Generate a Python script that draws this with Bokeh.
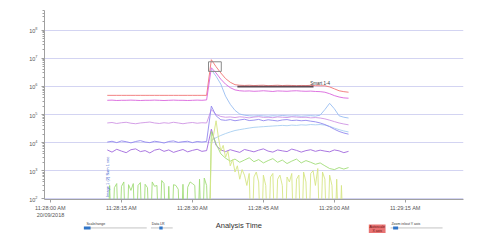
import numpy as np
from math import pi
from bokeh.plotting import figure
from bokeh.models import Range1d, FixedTicker
from bokeh.layouts import column
from bokeh.core.properties import value
from bokeh.embed import file_html
from bokeh.resources import INLINE

FONT = "Liberation Sans"

# ---------------- data (time in seconds after 11:28:00 AM) ----------------
tick_secs = [0, 15, 30, 45, 60, 75]
tick_labels = ["11:28:00 AM\n20/09/2018", "11:28:15 AM", "11:28:30 AM",
               "11:28:45 AM", "11:29:00 AM", "11:29:15 AM"]

t_main = list(range(12, 64))      # 52 samples, 1 s apart
t_post = list(range(34, 64))      # 30 samples after the burst

red_vals = [4.8e5, 4.8e5, 4.8e5, 4.8e5, 4.8e5, 4.8e5, 4.8e5, 4.8e5, 4.8e5, 4.8e5, 4.8e5,
            4.8e5, 4.8e5, 4.8e5, 4.8e5, 4.8e5, 4.8e5, 4.8e5, 4.8e5, 4.8e5, 4.8e5, 4.8e5,
            8.9e6, 5.0e6, 3.0e6, 1.9e6, 1.4e6, 1.15e6, 1.1e6, 1.08e6, 1.1e6, 1.07e6,
            1.09e6, 1.1e6, 1.06e6, 1.08e6, 1.1e6, 1.07e6, 1.09e6, 1.08e6, 1.06e6, 1.08e6,
            1.07e6, 1.09e6, 1.06e6, 1.05e6, 1.05e6, 9.6e5, 8.2e5, 7.0e5, 6.5e5, 6.2e5]

magenta_vals = [3.2e5, 3.25e5, 3.15e5, 3.2e5, 3.2e5, 3.25e5, 3.2e5, 3.15e5, 3.2e5, 3.2e5, 3.25e5,
                3.2e5, 3.15e5, 3.2e5, 3.25e5, 3.2e5, 3.2e5, 3.15e5, 3.2e5, 3.25e5, 3.2e5, 3.3e5,
                4.6e6, 3.0e6, 1.8e6, 1.2e6, 9.0e5, 7.5e5, 7.0e5, 6.8e5, 6.9e5, 6.7e5,
                6.8e5, 7.0e5, 6.8e5, 6.6e5, 6.9e5, 6.8e5, 6.7e5, 6.9e5, 7.0e5, 6.8e5,
                6.7e5, 6.8e5, 6.6e5, 6.5e5, 6.2e5, 5.5e5, 4.7e5, 4.2e5, 3.9e5, 3.8e5]

lightblue_vals = [3.9e6, 2.3e6, 1.2e6, 4.5e5, 2.3e5, 1.4e5, 1.04e5, 9.5e4, 9.0e4, 8.8e4,
                  9.1e4, 8.9e4, 8.7e4, 9.0e4, 8.8e4, 9.2e4, 8.9e4, 8.8e4, 9.0e4, 8.7e4,
                  8.9e4, 9.1e4, 8.8e4, 9.5e4, 1.5e5, 2.5e5, 1.6e5, 9.0e4, 8.0e4, 7.5e4]

sky_vals = [1.2e4, 1.5e4, 1.8e4, 2.1e4, 2.4e4, 2.7e4, 2.9e4, 3.1e4, 3.3e4, 3.5e4,
            3.6e4, 3.7e4, 3.8e4, 3.9e4, 4.0e4, 4.1e4, 4.0e4, 4.2e4, 4.1e4, 4.3e4,
            4.2e4, 4.4e4, 4.3e4, 4.4e4, 4.2e4, 3.8e4, 3.3e4, 2.9e4, 2.6e4, 2.4e4]

pinkpurple_vals = [5.0e4, 5.2e4, 4.8e4, 5.1e4, 5.3e4, 4.9e4, 4.7e4, 5.0e4, 5.2e4, 5.4e4, 5.0e4,
                   4.8e4, 5.1e4, 4.9e4, 5.3e4, 5.0e4, 4.7e4, 5.0e4, 5.2e4, 4.9e4, 5.1e4, 5.0e4,
                   1.5e5, 1.0e5, 8.5e4, 8.0e4, 8.2e4, 7.8e4, 8.3e4, 8.0e4, 7.6e4, 8.1e4,
                   8.4e4, 7.9e4, 8.0e4, 7.7e4, 8.2e4, 8.0e4, 7.8e4, 8.3e4, 8.1e4, 7.9e4,
                   8.0e4, 7.6e4, 7.8e4, 7.5e4, 7.0e4, 6.3e4, 5.6e4, 5.0e4, 4.6e4, 4.3e4]

violet_vals = [1.05e4, 1.12e4, 1.0e4, 1.15e4, 1.08e4, 0.98e4, 1.1e4, 1.18e4, 1.05e4, 1.0e4, 1.12e4,
               1.06e4, 0.97e4, 1.1e4, 1.15e4, 1.02e4, 1.08e4, 1.12e4, 1.0e4, 1.1e4, 1.05e4, 1.1e4,
               2.0e5, 9.0e4, 6.5e4, 6.2e4, 6.6e4, 6.0e4, 6.4e4, 6.8e4, 6.1e4, 6.3e4,
               6.7e4, 6.0e4, 6.5e4, 6.2e4, 5.9e4, 6.4e4, 6.6e4, 6.1e4, 6.3e4, 6.0e4,
               6.2e4, 5.8e4, 5.5e4, 5.0e4, 4.4e4, 3.7e4, 3.0e4, 2.5e4, 2.2e4, 2.0e4]

purple_vals = [5.5e3, 4.6e3, 5.8e3, 5.0e3, 4.4e3, 5.6e3, 6.0e3, 4.8e3, 5.2e3, 4.3e3, 5.4e3,
               5.9e3, 4.9e3, 5.5e3, 4.5e3, 5.1e3, 5.7e3, 4.7e3, 5.3e3, 5.8e3, 4.9e3, 5.2e3,
               3.0e4, 8.0e3, 5.5e3, 4.8e3, 5.6e3, 5.0e3, 4.5e3, 5.7e3, 5.2e3, 4.7e3,
               5.4e3, 6.0e3, 5.0e3, 4.6e3, 5.5e3, 5.1e3, 4.8e3, 5.9e3, 5.3e3, 4.6e3,
               5.2e3, 5.6e3, 4.9e3, 5.4e3, 5.0e3, 4.7e3, 5.5e3, 5.1e3, 4.4e3, 4.9e3]

# green: counts every 0.5 s before the burst (1 = no counts), then every 1 s
green_pre_vals = [1, 300, 1, 250, 350, 1, 280, 400, 1, 320, 200, 350, 1, 300, 380, 1,
                  330, 250, 1, 400, 280, 300, 1, 450, 350, 1, 280, 1, 320, 300, 220, 1,
                  330, 1, 260, 400, 350, 300, 1, 500, 1, 550, 300, 1]
green_post_vals = [2.5e4, 9.0e3, 4.0e3, 2.8e3, 2.2e3, 2.6e3, 2.0e3, 2.4e3, 2.9e3, 2.1e3,
                   2.5e3, 1.9e3, 2.3e3, 2.7e3, 2.0e3, 2.4e3, 1.8e3, 2.2e3, 2.6e3, 1.9e3,
                   2.3e3, 2.0e3, 1.7e3, 1.9e3, 1.5e3, 1.2e3, 1.1e3, 1.3e3, 1.15e3, 1.3e3]

# yellow-green: every 0.5 s from 33.5 s
yellow_vals = [1, 8e3, 2e4, 6e4, 1.5e4, 5e3, 8e3, 3e3, 5e3, 1.5e3, 2.5e3, 900, 1.5e3,
               500, 1.1e3, 700, 300, 800, 1, 600, 900, 400, 1, 700, 300, 1, 600, 800,
               1, 500, 700, 300, 1, 600, 400, 800, 1, 500, 700, 1, 900, 400, 1, 800,
               1000, 300, 1200, 1, 900, 500, 1, 700, 300, 1, 500, 1, 300, 1, 1, 1]

smart_t = [39.5, 55.6]
smart_v = [9.8e5, 9.8e5]
smart_label = "Smart 1-4"

box_left, box_right = [33.4], [36.1]
box_bottom, box_top = [3.4e6], [7.5e6]

trace_label = "Image 1 (2) Sum 1 sec"

# ---------------- main figure ----------------
p = figure(width=500, height=220, y_axis_type="log",
           x_range=Range1d(-1.27, 87.3), y_range=Range1d(95, 5e8),
           output_backend="svg", toolbar_location=None,
           min_border_left=44, min_border_right=37, min_border_top=10, min_border_bottom=18)
p.outline_line_color = None
p.background_fill_color = "white"
p.border_fill_color = "white"
p.xgrid.visible = False
p.ygrid.grid_line_color = "#d3d4f2"
p.ygrid.grid_line_width = 1

for ax in (p.xaxis[0], p.yaxis[0]):
    ax.axis_line_color = "#a0a0a0"
    ax.major_tick_line_color = "#a0a0a0"
    ax.minor_tick_line_color = "#a0a0a0"
    ax.major_label_text_font = FONT
    ax.major_label_text_font_size = "5.5px"
    ax.major_label_text_color = "#555555"
    ax.major_tick_in = 0
    ax.minor_tick_in = 0
    ax.major_tick_out = 3
    ax.minor_tick_out = 2

p.xaxis.ticker = FixedTicker(ticks=tick_secs)
p.xaxis.major_label_overrides = {s: l for s, l in zip(tick_secs, tick_labels)}
p.xaxis.major_label_standoff = 2
p.yaxis.major_label_standoff = 4
p.yaxis.ticker.desired_num_ticks = 8

lw = 0.9
p.line(t_main, red_vals, color="#f27474", line_width=lw)
p.line(t_main, magenta_vals, color="#d964dc", line_width=lw)
p.line(t_post, lightblue_vals, color="#98bdf2", line_width=lw)
p.line(t_post, sky_vals, color="#a8cff0", line_width=lw)
p.line(t_main, pinkpurple_vals, color="#cf95e4", line_width=lw)
p.line(t_main, violet_vals, color="#9288ee", line_width=lw)
p.line(t_main, purple_vals, color="#a068dc", line_width=lw)

t_green = list(12.0 + 0.5 * np.arange(len(green_pre_vals))) + t_post
p.line(t_green, green_pre_vals + green_post_vals, color="#a2dc78", line_width=lw)
t_yellow = list(33.5 + 0.5 * np.arange(len(yellow_vals)))
p.line(t_yellow, yellow_vals, color="#d6e584", line_width=lw)

p.line(smart_t, smart_v, color="#5c4a56", line_width=1.6)
p.text(x=[smart_t[1] - 0.7], y=[1.27e6], text=[smart_label], text_font=value(FONT),
       text_font_size="4.5px", text_color="#333333", text_baseline="middle")

p.quad(left=box_left, right=box_right, bottom=box_bottom, top=box_top,
       fill_color=None, line_color="#8a8a8a", line_width=1)

p.text(x=[12.1], y=[115], text=[trace_label], angle=pi / 2, text_font=value(FONT),
       text_font_size="4px", text_color="#3a5ccc", text_align="left", text_baseline="middle")

# ---------------- control strip below the chart ----------------
q = figure(width=500, height=23, x_range=Range1d(0, 500), y_range=Range1d(243, 220),
           output_backend="svg", toolbar_location=None,
           x_axis_location=None, y_axis_location=None, min_border=0)
q.outline_line_color = None
q.xgrid.visible = False
q.ygrid.visible = False

q.text(x=[232], y=[225], text=["Analysis Time"], text_font=value(FONT),
       text_font_size="7.5px", text_color="#333333", text_align="center", text_baseline="middle")

q.quad(left=[47, 127, 413], right=[122, 153, 475], top=[226.5] * 3, bottom=[228.2] * 3,
       fill_color="#dddddd", line_color=None)
q.quad(left=[47, 137, 416], right=[55, 141, 422], top=[226] * 3, bottom=[229] * 3,
       fill_color="#2f75c8", line_color=None)
q.text(x=[50, 128, 414], y=[223.3] * 3, text=["Scale/range", "Data LR", "Zoom in/out Y axis"],
       text_font=value(FONT), text_font_size="3.5px", text_color="#333333",
       text_baseline="middle")
q.quad(left=[387], right=[407], top=[224], bottom=[232.5], fill_color="#e87272", line_color=None)
q.text(x=[397, 397], y=[226.5, 230], text=["Autoscale", "X axis"], text_font=value(FONT),
       text_font_size="3.5px", text_color="#6a1010", text_align="center", text_baseline="middle")

layout = column(p, q, spacing=0)
open("out.html", "w").write(file_html(layout, INLINE))
